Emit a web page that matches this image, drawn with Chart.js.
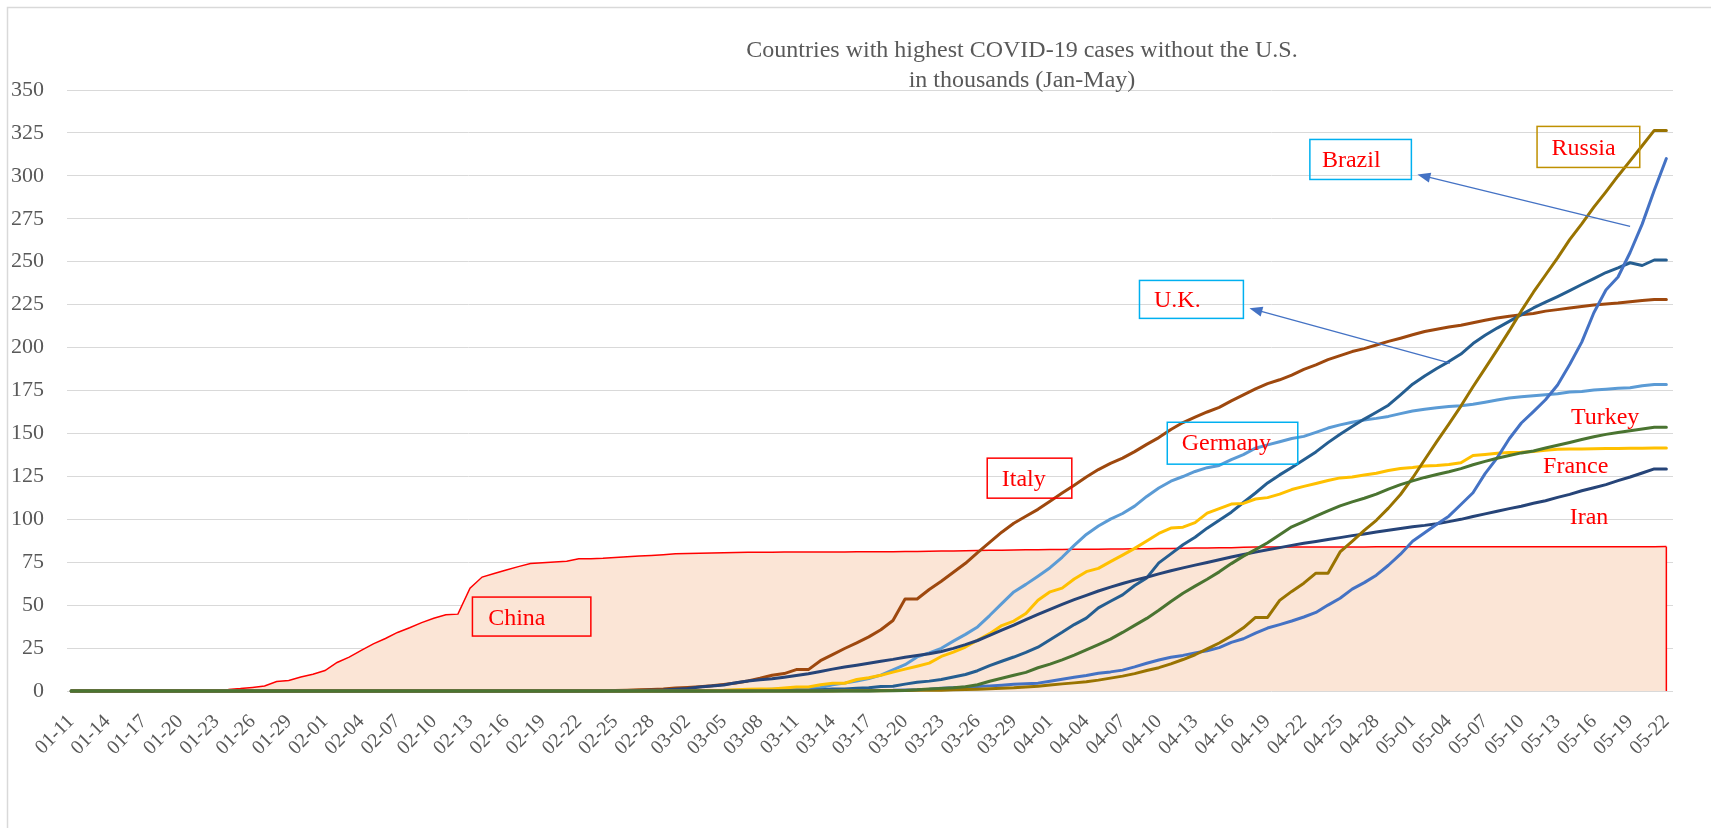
<!DOCTYPE html>
<html>
<head>
<meta charset="utf-8">
<script src="https://cdn.jsdelivr.net/npm/chart.js@4.4.1/dist/chart.umd.min.js"></script>
<style>
html,body{margin:0;padding:0;background:#fff;}
canvas{display:block;}
</style>
</head>
<body>
<canvas id="c" width="1711" height="828"></canvas>
<script>
// ---------- categories (dates) ----------
const categories = [
'01-11','01-12','01-13','01-14','01-15','01-16','01-17','01-18','01-19','01-20','01-21','01-22','01-23','01-24','01-25','01-26','01-27','01-28','01-29','01-30','01-31',
'02-01','02-02','02-03','02-04','02-05','02-06','02-07','02-08','02-09','02-10','02-11','02-12','02-13','02-14','02-15','02-16','02-17','02-18','02-19','02-20','02-21','02-22','02-23','02-24','02-25','02-26','02-27','02-28','02-29',
'03-01','03-02','03-03','03-04','03-05','03-06','03-07','03-08','03-09','03-10','03-11','03-12','03-13','03-14','03-15','03-16','03-17','03-18','03-19','03-20','03-21','03-22','03-23','03-24','03-25','03-26','03-27','03-28','03-29','03-30','03-31',
'04-01','04-02','04-03','04-04','04-05','04-06','04-07','04-08','04-09','04-10','04-11','04-12','04-13','04-14','04-15','04-16','04-17','04-18','04-19','04-20','04-21','04-22','04-23','04-24','04-25','04-26','04-27','04-28','04-29','04-30',
'05-01','05-02','05-03','05-04','05-05','05-06','05-07','05-08','05-09','05-10','05-11','05-12','05-13','05-14','05-15','05-16','05-17','05-18','05-19','05-20','05-21','05-22'
];

// tick labels shown on the axis (every third day)
const tickLabels = ['01-11','01-14','01-17','01-20','01-23','01-26','01-29','02-01','02-04','02-07','02-10','02-13','02-16','02-19','02-22','02-25','02-28',
'03-02','03-05','03-08','03-11','03-14','03-17','03-20','03-23','03-26','03-29','04-01','04-04','04-07','04-10','04-13','04-16','04-19','04-22','04-25','04-28',
'05-01','05-04','05-07','05-10','05-13','05-16','05-19','05-22'];

const yTicks = [0,25,50,75,100,125,150,175,200,225,250,275,300,325,350];

// ---------- series values (thousands of cases) ----------
const chinaCases = [
0,0,0,0,0,0,0,0,0,0,0,0.55,0.64,0.92,1.41,2.08,2.88,5.51,6.09,8.14,9.80,
11.89,16.63,19.72,23.71,27.44,30.59,34.11,36.81,39.83,42.35,44.39,44.76,59.90,66.36,68.41,70.51,72.43,74.21,74.62,75.08,75.55,77.00,77.02,77.24,77.75,78.17,78.60,78.93,79.36,
79.93,80.14,80.26,80.39,80.54,80.69,80.77,80.82,80.86,80.89,80.92,80.93,80.95,80.98,81.00,81.03,81.06,81.10,81.16,81.25,81.31,81.44,81.50,81.59,81.66,81.78,81.90,82.00,82.12,82.20,82.28,
82.36,82.43,82.51,82.54,82.60,82.67,82.72,82.81,82.88,82.94,83.01,83.13,83.21,83.31,83.36,83.40,83.76,83.79,83.81,83.82,83.85,83.87,83.88,83.90,83.91,83.91,83.92,83.94,83.94,83.96,
83.96,83.96,83.96,83.97,83.97,83.97,83.98,83.98,83.99,84.01,84.01,84.02,84.02,84.03,84.04,84.04,84.05,84.06,84.06,84.06,84.06,84.08
];

const italyCases = [
0,0,0,0,0,0,0,0,0,0,0,0,0,0,0,0,0,0,0,0,0,
0,0,0,0,0,0,0,0,0,0,0,0,0,0,0,0,0,0,0,0,0.02,0.06,0.16,0.23,0.32,0.45,0.66,0.89,1.13,
1.69,2.04,2.50,3.09,3.86,4.64,5.88,7.38,9.17,10.15,12.46,12.46,17.66,21.16,24.75,27.98,31.51,35.71,41.04,53.58,53.58,59.14,63.93,69.18,74.39,80.59,86.50,92.47,97.69,101.74,105.79,
110.57,115.24,119.83,124.63,128.95,132.55,135.59,139.42,143.63,147.58,152.27,156.36,159.52,162.49,165.16,168.94,172.43,175.93,178.97,181.23,183.96,187.33,189.97,192.99,195.35,197.68,199.41,201.51,203.59,205.46,
207.43,209.33,210.72,211.94,213.01,214.46,215.86,217.19,218.27,219.07,219.81,221.22,222.10,223.10,223.89,224.76,225.44,225.89,226.70,227.36,228.01,228.01
];

const germanyCases = [
0,0,0,0,0,0,0,0,0,0,0,0,0,0,0,0,0,0,0,0,0,
0.01,0.01,0.01,0.01,0.01,0.01,0.01,0.01,0.01,0.01,0.01,0.01,0.01,0.01,0.01,0.01,0.01,0.01,0.01,0.01,0.01,0.01,0.01,0.01,0.01,0.02,0.03,0.05,0.05,
0.08,0.13,0.16,0.20,0.26,0.48,0.67,0.80,1.04,1.18,1.46,1.91,2.08,3.68,4.59,5.80,7.27,9.26,12.33,15.32,19.85,22.21,24.87,29.06,32.99,37.32,43.94,50.87,57.70,62.10,66.89,
71.81,77.87,84.79,91.16,96.09,100.12,103.37,107.66,113.30,118.18,122.17,124.91,127.85,130.07,131.36,134.75,137.70,141.40,143.34,145.18,147.07,148.29,150.65,153.13,155.00,156.51,157.77,158.76,159.91,161.54,
163.01,164.08,164.97,165.66,166.15,167.01,168.16,169.43,170.59,171.32,171.88,172.58,173.17,174.10,174.48,175.23,175.75,176.37,176.55,177.78,178.47,178.47
];

const ukCases = [
0,0,0,0,0,0,0,0,0,0,0,0,0,0,0,0,0,0,0,0,0,
0,0,0,0,0,0,0,0,0,0.01,0.01,0.01,0.01,0.01,0.01,0.01,0.01,0.01,0.01,0.01,0.01,0.01,0.01,0.01,0.01,0.01,0.01,0.02,0.02,
0.04,0.04,0.05,0.09,0.12,0.16,0.21,0.27,0.32,0.38,0.46,0.46,0.80,1.14,1.15,1.55,1.96,2.64,2.72,4.01,5.07,5.75,6.73,8.16,9.64,11.81,14.75,17.31,19.78,22.45,25.48,
29.87,34.17,38.69,42.48,48.44,52.28,55.95,61.47,65.87,74.61,79.87,85.21,89.57,94.85,99.48,104.15,109.77,115.31,121.17,125.86,130.17,134.64,139.25,144.64,149.57,154.04,158.35,162.35,166.44,172.48,
178.69,183.50,187.84,191.83,196.24,202.36,207.14,211.36,215.26,219.18,223.06,226.46,229.71,233.15,236.71,240.16,243.70,246.41,249.40,247.80,251.00,251.00
];

const franceCases = [
0,0,0,0,0,0,0,0,0,0,0,0,0,0,0,0,0,0,0,0,0,
0.01,0.01,0.01,0.01,0.01,0.01,0.01,0.01,0.01,0.01,0.01,0.01,0.01,0.01,0.01,0.01,0.01,0.01,0.01,0.01,0.01,0.01,0.01,0.01,0.01,0.02,0.04,0.06,0.10,
0.13,0.19,0.20,0.29,0.38,0.66,0.96,1.14,1.22,1.79,2.29,2.29,3.68,4.50,4.53,6.68,7.72,9.12,10.97,12.76,14.46,16.24,20.12,22.62,25.60,29.55,33.40,38.11,40.71,45.17,52.83,
57.75,59.93,65.20,69.50,71.41,75.34,79.16,83.06,87.37,91.74,94.86,95.40,98.08,103.57,106.21,108.85,109.25,111.82,112.61,114.66,117.32,119.15,120.80,122.58,124.11,124.58,125.77,126.84,128.44,129.58,
130.19,130.98,131.29,131.86,132.97,137.15,137.78,138.42,138.85,139.06,139.52,140.23,140.73,140.90,141.00,141.10,141.20,141.25,141.30,141.40,141.50,141.50
];

const turkeyCases = [
0,0,0,0,0,0,0,0,0,0,0,0,0,0,0,0,0,0,0,0,0,
0,0,0,0,0,0,0,0,0,0,0,0,0,0,0,0,0,0,0,0,0,0,0,0,0,0,0,0,0,
0,0,0,0,0,0,0,0,0,0,0.001,0.001,0.005,0.005,0.006,0.018,0.047,0.098,0.192,0.359,0.670,1.236,1.529,1.872,2.433,3.629,5.698,7.402,9.217,10.827,13.531,
15.68,18.14,20.92,23.93,27.07,30.22,34.11,38.23,42.28,47.03,52.17,56.96,61.05,65.11,69.39,74.19,78.55,82.33,86.31,90.98,95.59,98.67,101.79,104.91,107.77,110.13,112.26,114.65,117.59,120.20,
122.39,124.38,126.05,127.66,129.49,131.74,133.72,135.57,137.12,138.66,139.77,141.48,143.11,144.75,146.46,148.07,149.44,150.59,151.62,152.59,153.55,153.55
];

const iranCases = [
0,0,0,0,0,0,0,0,0,0,0,0,0,0,0,0,0,0,0,0,0,
0,0,0,0,0,0,0,0,0,0,0,0,0,0,0,0,0,0,0.002,0.005,0.018,0.028,0.043,0.061,0.095,0.139,0.245,0.388,0.593,
0.98,1.50,2.34,2.92,3.51,4.75,5.82,6.57,7.16,8.04,9.00,10.08,11.36,12.73,13.94,14.99,16.17,17.36,18.41,19.64,20.61,21.64,23.05,24.81,27.02,29.41,32.33,35.41,38.31,41.50,44.61,
47.59,50.47,53.18,55.74,58.23,60.50,62.59,64.59,66.22,68.19,70.03,71.69,73.30,74.88,76.39,78.00,79.49,80.87,82.21,83.51,84.80,86.00,87.03,88.19,89.33,90.48,91.47,92.58,93.66,94.64,
95.65,96.45,97.42,98.65,99.97,101.65,103.14,104.69,106.22,107.60,109.29,110.77,112.73,114.53,116.64,118.39,120.20,122.49,124.60,126.95,129.34,129.34
];

const russiaCases = [
0,0,0,0,0,0,0,0,0,0,0,0,0,0,0,0,0,0,0,0,0,
0,0,0,0,0,0,0,0,0,0,0,0,0,0,0,0,0,0,0,0,0,0,0,0,0,0,0,0,0,
0.003,0.003,0.003,0.004,0.010,0.010,0.010,0.010,0.010,0.020,0.028,0.045,0.059,0.063,0.090,0.114,0.147,0.199,0.253,0.306,0.367,0.438,0.495,0.658,0.840,1.036,1.264,1.534,1.836,2.337,2.777,
3.55,4.15,4.73,5.39,6.34,7.50,8.67,10.13,11.92,13.58,15.77,18.33,21.10,24.49,27.94,32.01,36.79,42.85,42.85,52.76,58.00,62.77,68.62,68.62,80.95,87.15,93.56,99.40,106.50,114.43,
124.05,134.69,145.27,155.37,165.93,177.16,187.86,198.68,209.69,221.34,232.24,242.27,252.25,262.84,272.04,281.75,290.68,299.94,308.71,317.55,326.45,326.45
];

const brazilCases = [
0,0,0,0,0,0,0,0,0,0,0,0,0,0,0,0,0,0,0,0,0,
0,0,0,0,0,0,0,0,0,0,0,0,0,0,0,0,0,0,0,0,0,0,0,0,0,0,0,0,0,
0.002,0.002,0.002,0.002,0.004,0.004,0.013,0.013,0.020,0.025,0.031,0.038,0.052,0.151,0.151,0.162,0.200,0.321,0.372,0.621,0.793,1.021,1.546,1.924,2.247,2.554,2.985,3.417,3.904,4.256,4.579,
5.72,6.84,8.04,9.06,10.36,11.13,12.16,14.03,16.17,18.09,19.64,20.73,22.19,23.43,25.26,28.32,30.43,33.68,36.66,38.65,40.74,43.08,45.76,50.04,54.04,59.32,63.10,67.45,73.24,79.69,
87.19,92.20,97.10,101.83,108.62,115.46,126.61,135.77,146.89,156.06,162.70,169.59,178.21,190.14,203.17,220.29,233.51,241.08,255.37,271.89,291.58,310.09
];

// ---------- text ----------
const titleLines = ['Countries with highest COVID-19 cases without the U.S.', 'in thousands (Jan-May)'];

// annotation boxes / labels placed in data coordinates (x = day index, y = value)
const notes = [
  {text:'Brazil',  box:[102.5,321.2,110.9,297.9], tx:103.5, ty:309.0, border:'#00B0F0'},
  {text:'Russia',  box:[121.3,328.8,129.8,304.9], tx:122.5, ty:316.0, border:'#BF9000'},
  {text:'U.K.',    box:[88.4,239.1,97.0,217.0],   tx:89.6,  ty:227.5, border:'#00B0F0'},
  {text:'Germany', box:[90.7,156.5,101.5,132.1],  tx:91.9,  ty:144.3, border:'#00B0F0'},
  {text:'Italy',   box:[75.8,135.6,82.8,112.3],   tx:77.0,  ty:122.8, border:'#FF0000'},
  {text:'China',   box:[33.2,54.7,43.0,32.0],     tx:34.5,  ty:41.9,  border:'#FF0000'},
  {text:'Turkey',  tx:124.1, ty:158.9},
  {text:'France',  tx:121.8, ty:130.9},
  {text:'Iran',    tx:124.0, ty:100.7}
];
const arrows = [
  {from:[129.0,270.6], to:[111.4,300.8]},
  {from:[114.1,190.9], to:[97.5,222.9]}
];

const toXY = arr => arr.map((v, i) => ({x: i, y: v}));
const tickIndex = tickLabels.map(l => categories.indexOf(l));

const serif = '"Liberation Serif", "Times New Roman", serif';

const notesPlugin = {
  id: 'notes',
  afterDatasetDraw(chart, args) {
    const ds = chart.data.datasets[args.index];
    if (ds.label !== 'China') return;
    const xs = chart.scales.x, ys = chart.scales.y, ctx = chart.ctx;
    const last = chinaCases.length - 1;
    const px = xs.getPixelForValue(last);
    ctx.save();
    ctx.strokeStyle = '#FF0000';
    ctx.lineWidth = 1.5;
    ctx.beginPath();
    ctx.moveTo(px, ys.getPixelForValue(chinaCases[last]));
    ctx.lineTo(px, ys.getPixelForValue(0));
    ctx.stroke();
    ctx.restore();
  },
  afterDraw(chart) {
    const xs = chart.scales.x, ys = chart.scales.y, ctx = chart.ctx;
    const X = v => xs.getPixelForValue(v), Y = v => ys.getPixelForValue(v);
    ctx.save();
    // outer frame (top and left edges of the chart object)
    ctx.strokeStyle = '#D9D9D9';
    ctx.lineWidth = 1.5;
    ctx.beginPath();
    ctx.moveTo(7.5, 828); ctx.lineTo(7.5, 7.5); ctx.lineTo(1711, 7.5);
    ctx.stroke();

    // title
    ctx.fillStyle = '#595959';
    ctx.font = '24px ' + serif;
    ctx.textAlign = 'center';
    ctx.textBaseline = 'alphabetic';
    ctx.fillText(titleLines[0], 1022, 57);
    ctx.fillText(titleLines[1], 1022, 87);

    // boxes and labels
    ctx.textAlign = 'left';
    ctx.textBaseline = 'middle';
    ctx.font = '24px ' + serif;
    notes.forEach(n => {
      if (n.box) {
        const x0 = X(n.box[0]), y0 = Y(n.box[1]), x1 = X(n.box[2]), y1 = Y(n.box[3]);
        ctx.strokeStyle = n.border;
        ctx.lineWidth = 1.5;
        ctx.strokeRect(x0, y0, x1 - x0, y1 - y0);
      }
      ctx.fillStyle = '#FF0000';
      ctx.fillText(n.text, X(n.tx), Y(n.ty));
    });

    // arrows
    arrows.forEach(a => {
      const x0 = X(a.from[0]), y0 = Y(a.from[1]), x1 = X(a.to[0]), y1 = Y(a.to[1]);
      const ang = Math.atan2(y1 - y0, x1 - x0);
      const L = 13, W = 5;
      ctx.strokeStyle = '#4472C4';
      ctx.fillStyle = '#4472C4';
      ctx.lineWidth = 1.3;
      ctx.beginPath();
      ctx.moveTo(x0, y0);
      ctx.lineTo(x1 - Math.cos(ang) * L * 0.8, y1 - Math.sin(ang) * L * 0.8);
      ctx.stroke();
      ctx.beginPath();
      ctx.moveTo(x1, y1);
      ctx.lineTo(x1 - L * Math.cos(ang) + W * Math.sin(ang), y1 - L * Math.sin(ang) - W * Math.cos(ang));
      ctx.lineTo(x1 - L * Math.cos(ang) - W * Math.sin(ang), y1 - L * Math.sin(ang) + W * Math.cos(ang));
      ctx.closePath();
      ctx.fill();
    });
    ctx.restore();
  }
};

const lineDs = (label, values, color, order) => ({
  label, data: toXY(values), borderColor: color, backgroundColor: color,
  borderWidth: 3, fill: false, order, clip: false,
  borderJoinStyle: 'round', borderCapStyle: 'round', pointRadius: 0, tension: 0
});

new Chart(document.getElementById('c'), {
  type: 'line',
  data: {
    datasets: [
      {label:'China', data: toXY(chinaCases), borderColor:'#FF0000', backgroundColor:'#FBE5D6',
       borderWidth:1.5, fill:'origin', order:20, pointRadius:0, tension:0},
      lineDs('Italy',   italyCases,   '#9E480E', 9),
      lineDs('Germany', germanyCases, '#5B9BD5', 8),
      lineDs('U.K.',    ukCases,      '#255E91', 7),
      lineDs('France',  franceCases,  '#FFC000', 6),
      lineDs('Iran',    iranCases,    '#264478', 5),
      lineDs('Brazil',  brazilCases,  '#4472C4', 4),
      lineDs('Russia',  russiaCases,  '#997300', 3),
      lineDs('Turkey',  turkeyCases,  '#4A7431', 1)
    ]
  },
  options: {
    responsive: false,
    animation: false,
    devicePixelRatio: 1,
    layout: { padding: { top: 90, right: 38, left: 0, bottom: 0 } },
    plugins: { legend: { display: false }, title: { display: false }, tooltip: { enabled: false } },
    scales: {
      x: {
        type: 'linear', min: -0.35, max: 132.55,
        grid: { display: false, drawTicks: false },
        border: { display: false },
        afterBuildTicks: s => { s.ticks = tickIndex.map(v => ({ value: v })); },
        afterFit: s => { s.height = 137; s.paddingLeft = 0; s.paddingRight = 0; },
        ticks: {
          autoSkip: false, maxRotation: 45, minRotation: 45, padding: 19,
          color: '#595959', font: { family: serif, size: 20 },
          callback: v => categories[v]
        }
      },
      y: {
        min: 0, max: 350,
        afterBuildTicks: s => { s.ticks = yTicks.map(v => ({ value: v })); },
        afterFit: s => { s.width = 67; },
        grid: { color: '#D9D9D9', lineWidth: 1, drawTicks: false },
        border: { display: false },
        ticks: { padding: 23, color: '#595959', font: { family: serif, size: 22 } }
      }
    }
  },
  plugins: [notesPlugin]
});
</script>
</body>
</html>
